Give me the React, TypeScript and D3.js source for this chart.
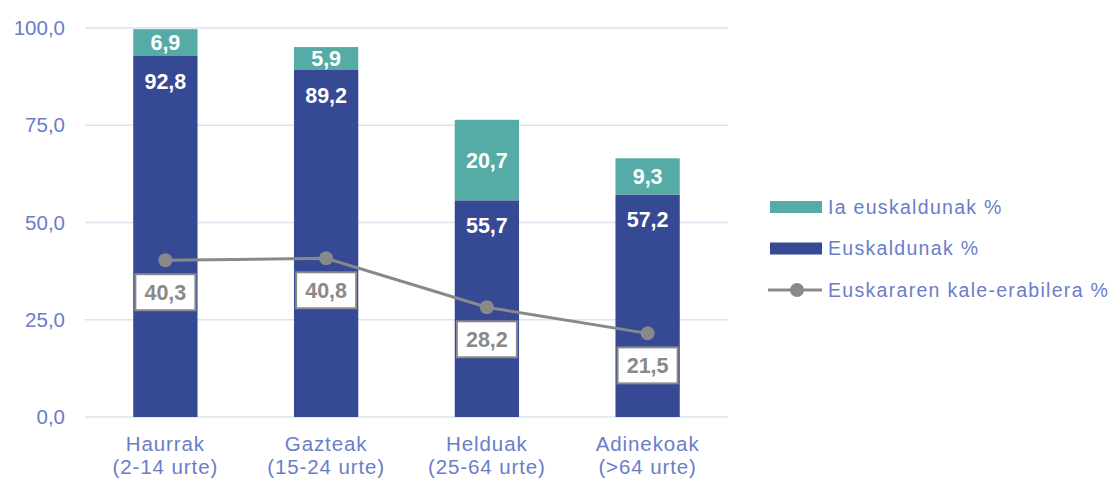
import { useEffect, useRef } from 'react'
import * as d3 from 'd3'

const categories = [['Haurrak', '(2-14 urte)'], ['Gazteak', '(15-24 urte)'], ['Helduak', '(25-64 urte)'], ['Adinekoak', '(>64 urte)']]
const euskaldunak = [92.8, 89.2, 55.7, 57.2]
const iaEuskaldunak = [6.9, 5.9, 20.7, 9.3]
const kaleErabilera = [40.3, 40.8, 28.2, 21.5]
const yTicks = [0, 25, 50, 75, 100]

const fmt = (v: number) => v.toFixed(1).replace('.', ',')

const W = 1116
const H = 480
const margin = { left: 85, right: 388, top: 28, bottom: 63 }

const NAVY = '#354994'
const TEAL = '#55aca6'
const GRAY = '#898989'
const AXIS = '#6a7dc9'
const FONT = '"Liberation Sans", Arial, sans-serif'

const App = () => {
  const ref = useRef<SVGSVGElement>(null)

  useEffect(() => {
    if (!ref.current) return
    const svg = d3.select(ref.current)
    svg.selectAll('*').remove()

    const x = d3.scaleBand<number>()
      .domain(d3.range(categories.length))
      .range([margin.left, W - margin.right])
      .paddingInner(0.6)
      .paddingOuter(0.3)
    const y = d3.scaleLinear().domain([0, 100]).range([H - margin.bottom, margin.top])

    // grid
    svg.append('g')
      .selectAll('line')
      .data(yTicks)
      .join('line')
      .attr('x1', margin.left)
      .attr('x2', W - margin.right)
      .attr('y1', d => y(d))
      .attr('y2', d => y(d))
      .attr('stroke', '#dde1f2')
      .attr('stroke-width', 1.5)

    svg.append('g')
      .selectAll('text')
      .data(yTicks)
      .join('text')
      .attr('x', 65)
      .attr('y', d => y(d))
      .attr('dy', '0.35em')
      .attr('text-anchor', 'end')
      .attr('font-family', FONT)
      .attr('font-size', 20.5)
      .attr('fill', AXIS)
      .text(d => fmt(d))

    // category labels
    svg.append('g')
      .selectAll('text')
      .data(categories)
      .join('text')
      .attr('text-anchor', 'middle')
      .attr('font-family', FONT)
      .attr('font-size', 20.5)
      .attr('letter-spacing', 0.9)
      .attr('fill', AXIS)
      .each(function (d, i) {
        const t = d3.select(this)
        const cx = x(i)! + x.bandwidth() / 2
        t.append('tspan').attr('x', cx).attr('y', 451).text(d[0])
        t.append('tspan').attr('x', cx).attr('y', 474).text(d[1])
      })

    // bars
    const bars = svg.append('g')
    bars.selectAll('rect.eus')
      .data(euskaldunak)
      .join('rect')
      .attr('class', 'eus')
      .attr('x', (_, i) => x(i)!)
      .attr('width', x.bandwidth())
      .attr('y', d => y(d))
      .attr('height', d => y(0) - y(d))
      .attr('fill', NAVY)
    bars.selectAll('rect.ia')
      .data(iaEuskaldunak)
      .join('rect')
      .attr('class', 'ia')
      .attr('x', (_, i) => x(i)!)
      .attr('width', x.bandwidth())
      .attr('y', (d, i) => y(d + euskaldunak[i]))
      .attr('height', d => y(0) - y(d))
      .attr('fill', TEAL)

    const barLabels = svg.append('g')
      .attr('font-family', FONT)
      .attr('font-size', 21.5)
      .attr('font-weight', 'bold')
      .attr('fill', '#fff')
      .attr('text-anchor', 'middle')
    barLabels.selectAll('text.eus')
      .data(euskaldunak)
      .join('text')
      .attr('class', 'eus')
      .attr('x', (_, i) => x(i)! + x.bandwidth() / 2)
      .attr('y', d => y(d) + 25)
      .attr('dy', '0.35em')
      .text(d => fmt(d))
    barLabels.selectAll('text.ia')
      .data(iaEuskaldunak)
      .join('text')
      .attr('class', 'ia')
      .attr('x', (_, i) => x(i)! + x.bandwidth() / 2)
      .attr('y', (d, i) => y(euskaldunak[i] + d / 2))
      .attr('dy', '0.35em')
      .text(d => fmt(d))

    // line
    const line = d3.line<number>()
      .x((_, i) => x(i)! + x.bandwidth() / 2)
      .y(d => y(d))
    svg.append('path')
      .datum(kaleErabilera)
      .attr('d', line)
      .attr('fill', 'none')
      .attr('stroke', GRAY)
      .attr('stroke-width', 3)
    svg.append('g')
      .selectAll('circle')
      .data(kaleErabilera)
      .join('circle')
      .attr('cx', (_, i) => x(i)! + x.bandwidth() / 2)
      .attr('cy', d => y(d))
      .attr('r', 7)
      .attr('fill', GRAY)

    const boxes = svg.append('g')
      .selectAll('g')
      .data(kaleErabilera)
      .join('g')
      .attr('transform', (d, i) => `translate(${x(i)! + x.bandwidth() / 2},${y(d) + 32})`)
    boxes.append('rect')
      .attr('x', -30)
      .attr('y', -18)
      .attr('width', 60)
      .attr('height', 36)
      .attr('fill', '#fff')
      .attr('stroke', GRAY)
      .attr('stroke-width', 2)
    boxes.append('text')
      .attr('text-anchor', 'middle')
      .attr('dy', '0.36em')
      .attr('font-family', FONT)
      .attr('font-size', 21.5)
      .attr('font-weight', 'bold')
      .attr('fill', GRAY)
      .text(d => fmt(d))

    // legend
    const legend = svg.append('g')
      .attr('font-family', FONT)
      .attr('font-size', 19.5)
      .attr('letter-spacing', 1.3)
      .attr('fill', AXIS)
    const items = [
      { label: 'Ia euskaldunak %', color: TEAL, type: 'rect' },
      { label: 'Euskaldunak %', color: NAVY, type: 'rect' },
      { label: 'Euskararen kale-erabilera %', color: GRAY, type: 'line' },
    ]
    items.forEach((it, i) => {
      const cy = 207 + i * 41.5
      if (it.type === 'rect') {
        legend.append('rect').attr('x', 770).attr('y', cy - 6).attr('width', 52).attr('height', 12).attr('fill', it.color)
      } else {
        legend.append('line').attr('x1', 768).attr('x2', 822).attr('y1', cy).attr('y2', cy).attr('stroke', it.color).attr('stroke-width', 3)
        legend.append('circle').attr('cx', 797).attr('cy', cy).attr('r', 7).attr('fill', it.color)
      }
      legend.append('text').attr('x', 828).attr('y', cy).attr('dy', '0.35em').text(it.label)
    })
  }, [])

  return <svg ref={ref} width={W} height={H} style={{ position: 'absolute', left: 0, top: 0 }} />
}

export default App
